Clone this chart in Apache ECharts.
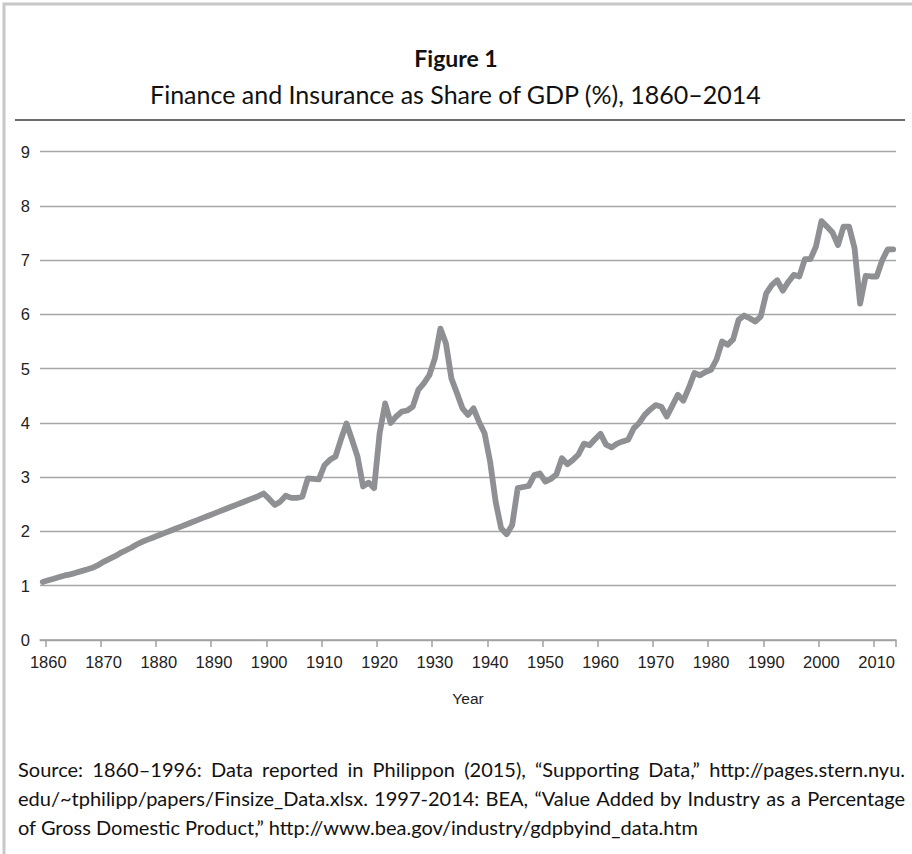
<!DOCTYPE html>
<html>
<head>
<meta charset="utf-8">
<style>
  html, body { margin: 0; padding: 0; background: #ffffff; }
  #chart { width: 912px; height: 854px; }
</style>
<script src="https://cdn.jsdelivr.net/npm/echarts@6/dist/echarts.min.js"></script>
</head>
<body>
<div id="chart"></div>
<script>
// ---- data ----
const years = [];
for (let y = 1859; y <= 2013; y++) years.push(String(y));

const financeShare = [
  1.07, 1.10, 1.13, 1.16, 1.19, 1.21, 1.24, 1.27, 1.30, 1.33, // 1859-1868
  1.38, 1.44, 1.49, 1.54, 1.60, 1.65, 1.70, 1.76, 1.81, 1.85, // 1869-1878
  1.89, 1.93, 1.97, 2.01, 2.05, 2.09, 2.13, 2.17, 2.21, 2.25, // 1879-1888
  2.29, 2.33, 2.37, 2.41, 2.45, 2.49, 2.53, 2.57, 2.61, 2.65, // 1889-1898
  2.70, 2.60, 2.49, 2.55, 2.66, 2.62, 2.62, 2.64, 2.98, 2.97, // 1899-1908
  2.96, 3.22, 3.32, 3.38, 3.70, 3.99, 3.69, 3.38, 2.83, 2.90, // 1909-1918
  2.80, 3.81, 4.36, 4.00, 4.12, 4.21, 4.23, 4.30, 4.61, 4.73, // 1919-1928
  4.88, 5.19, 5.74, 5.47, 4.82, 4.55, 4.27, 4.15, 4.27, 4.02, // 1929-1938
  3.81, 3.29, 2.55, 2.06, 1.95, 2.12, 2.80, 2.82, 2.84, 3.04, // 1939-1948
  3.07, 2.92, 2.97, 3.05, 3.35, 3.24, 3.32, 3.42, 3.62, 3.59, // 1949-1958
  3.70, 3.80, 3.60, 3.55, 3.62, 3.66, 3.69, 3.90, 4.00, 4.15, // 1959-1968
  4.25, 4.33, 4.30, 4.12, 4.32, 4.52, 4.41, 4.65, 4.92, 4.88, // 1969-1978
  4.94, 4.98, 5.17, 5.50, 5.44, 5.54, 5.90, 5.98, 5.93, 5.87, // 1979-1988
  5.96, 6.39, 6.54, 6.63, 6.44, 6.60, 6.73, 6.70, 7.02, 7.02, // 1989-1998
  7.25, 7.72, 7.62, 7.51, 7.28, 7.62, 7.62, 7.22, 6.20, 6.71, // 1999-2008
  6.70, 6.70, 7.00, 7.20, 7.20                                // 2009-2013
];

const yTicks = [0, 1, 2, 3, 4, 5, 6, 7, 8, 9];

const titleText = 'Figure 1';
const subtitleText = 'Finance and Insurance as Share of GDP (%), 1860\u20132014';
const xAxisName = 'Year';
const sourceLines = [
  'Source: 1860\u20131996: Data reported in Philippon (2015), \u201cSupporting Data,\u201d http://pages.stern.nyu.',
  'edu/~tphilipp/papers/Finsize_Data.xlsx. 1997-2014: BEA, \u201cValue Added by Industry as a Percentage',
  'of Gross Domestic Product,\u201d http://www.bea.gov/industry/gdpbyind_data.htm'
];

// ---- chart ----
const chart = echarts.init(document.getElementById('chart'), null, { renderer: 'svg' });

const humanist = 'Lato, "Open Sans", "Noto Sans", sans-serif';
const axisFont = '"Liberation Sans", Arial, sans-serif';

// justified source note: words laid out across the text block width
const noteFont = '20px ' + humanist;
const measureCtx = document.createElement('canvas').getContext('2d');
measureCtx.font = noteFont;
function noteLine(text, top, justify) {
  const left = 18, right = 905;
  if (!justify) {
    return [{ type: 'text', x: left, y: top, silent: true,
      style: { text: text, font: noteFont, fill: '#111' } }];
  }
  const words = text.split(' ');
  const widths = words.map(w => measureCtx.measureText(w).width);
  const total = widths.reduce((a, b) => a + b, 0);
  const gap = (right - left - total) / (words.length - 1);
  const out = [];
  let x = left;
  words.forEach((w, i) => {
    out.push({ type: 'text', x: x, y: top, silent: true,
      style: { text: w, font: noteFont, fill: '#111' } });
    x += widths[i] + gap;
  });
  return out;
}

const option = {
  backgroundColor: '#ffffff',
  animation: false,
  grid: { left: 40, right: 16, top: 151.7, bottom: 214 },
  xAxis: {
    type: 'category',
    data: years,
    boundaryGap: true,
    name: xAxisName,
    nameLocation: 'middle',
    nameGap: 50,
    nameTextStyle: { fontFamily: axisFont, fontSize: 15.5, color: '#222' },
    axisLine: { show: true, lineStyle: { color: '#a0a0a0', width: 1.5 } },
    axisTick: {
      show: true,
      length: 7,
      interval: (idx, val) => Number(val) % 10 === 0,
      lineStyle: { color: '#a0a0a0', width: 1.5 }
    },
    axisLabel: {
      interval: (idx, val) => Number(val) % 10 === 0,
      fontFamily: axisFont,
      fontSize: 16.5,
      color: '#222',
      margin: 13
    },
    splitLine: { show: false }
  },
  yAxis: {
    type: 'value',
    min: yTicks[0],
    max: yTicks[yTicks.length - 1],
    interval: 1,
    axisLine: { show: false },
    axisTick: { show: false },
    axisLabel: { fontFamily: axisFont, fontSize: 16.5, color: '#222', margin: 10 },
    splitLine: { show: true, lineStyle: { color: '#a6a6a6', width: 1.3 } }
  },
  series: [{
    type: 'line',
    data: financeShare,
    symbol: 'none',
    smooth: false,
    lineStyle: { color: '#8f9094', width: 5.8, join: 'round', cap: 'round' },
    z: 3
  }],
  graphic: [
    // outer frame (top + left)
    { type: 'polyline', shape: { points: [[4, 854], [4, 4], [912, 4]] },
      style: { stroke: '#c8c8c8', lineWidth: 3, fill: null }, silent: true },
    // separator under the title
    { type: 'line', shape: { x1: 15, y1: 120, x2: 905, y2: 120 },
      style: { stroke: '#3a3a3a', lineWidth: 1.5 }, silent: true },
    { type: 'text', left: 'center', top: 46,
      style: { text: titleText, font: 'bold 23px ' + humanist, fill: '#111' } },
    { type: 'text', left: 'center', top: 81,
      style: { text: subtitleText, font: '25px ' + humanist, fill: '#111' } }
  ].concat(
    noteLine(sourceLines[0], 759, true),
    noteLine(sourceLines[1], 788, true),
    noteLine(sourceLines[2], 817, false)
  )
};

chart.setOption(option);
</script>
</body>
</html>
